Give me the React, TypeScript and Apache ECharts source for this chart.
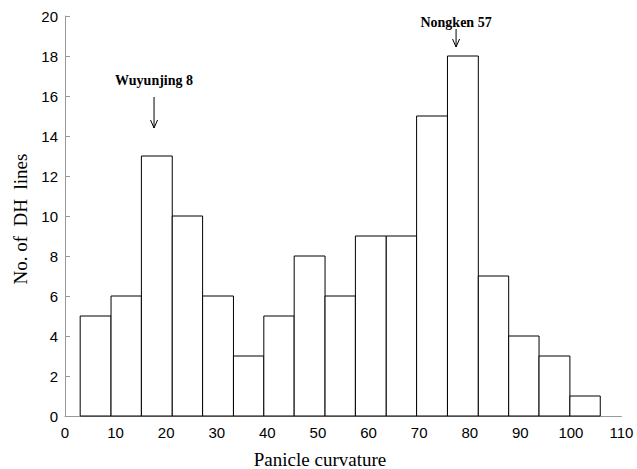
import React, { useEffect, useRef } from "react";
import * as echarts from "echarts";

// Histogram data
const binEdges = [3.0, 9.1, 15.1, 21.2, 27.2, 33.3, 39.3, 45.3, 51.4, 57.4, 63.5, 69.5, 75.6, 81.7, 87.7, 93.7, 99.8, 105.8];
const counts = [5, 6, 13, 10, 6, 3, 5, 8, 6, 9, 9, 15, 18, 7, 4, 3, 1];

// Annotations: label, x position, text y, arrow top y, arrow bottom y (data units)
const annoLabels = ["Wuyunjing 8", "Nongken 57"];
const annoX = [17.6, 77.3];
const annoTextY = [16.8, 19.7];
const annoArrowTop = [15.95, 19.35];
const annoArrowBottom = [14.4, 18.45];

const xTitle = "Panicle curvature";
const yTitle = "No. of  DH  lines";

export default function App() {
  const ref = useRef<HTMLDivElement>(null);

  useEffect(() => {
    if (!ref.current) return;
    const chart = echarts.init(ref.current, null, { renderer: "svg" });
    const sans = '"Liberation Sans", Arial, sans-serif';
    const serif = '"Liberation Serif", "Times New Roman", serif';

    const barData = counts.map((c, i) => [binEdges[i], binEdges[i + 1], c]);
    const annoData = annoLabels.map((_, i) => [annoX[i], annoTextY[i], annoArrowTop[i], annoArrowBottom[i]]);

    chart.setOption({
      animation: false,
      backgroundColor: "#fff",
      grid: { left: 65, right: 15.5, top: 16, bottom: 53 },
      xAxis: {
        type: "value",
        min: 0,
        max: 110,
        interval: 10,
        axisLine: { show: true, lineStyle: { color: "#999", width: 1 } },
        axisTick: { show: false },
        splitLine: { show: false },
        axisLabel: { color: "#000", fontFamily: sans, fontSize: 15, margin: 9, showMinLabel: true, showMaxLabel: true },
      },
      yAxis: {
        type: "value",
        min: 0,
        max: 20,
        interval: 2,
        axisLine: { show: true, lineStyle: { color: "#999", width: 1 } },
        axisTick: { show: true, inside: true, length: 5, lineStyle: { color: "#999" } },
        splitLine: { show: false },
        axisLabel: { color: "#000", fontFamily: sans, fontSize: 15, margin: 7 },
      },
      graphic: [
        {
          type: "text",
          x: 320,
          y: 459,
          style: { text: xTitle, font: `19px ${serif}`, fill: "#000", align: "center", verticalAlign: "middle" },
        },
        {
          type: "text",
          x: 20,
          y: 219,
          rotation: Math.PI / 2,
          style: { text: yTitle, font: `19px ${serif}`, fill: "#000", align: "center", verticalAlign: "middle" },
        },
      ],
      series: [
        {
          type: "custom",
          data: barData,
          encode: { x: [0, 1], y: 2 },
          renderItem: (params: any, api: any) => {
            const p0 = api.coord([api.value(0), api.value(2)]);
            const p1 = api.coord([api.value(1), 0]);
            return {
              type: "rect",
              shape: { x: p0[0], y: p0[1], width: p1[0] - p0[0], height: p1[1] - p0[1] },
              style: { fill: "#fff", stroke: "#000", lineWidth: 1 },
            };
          },
        },
        {
          type: "custom",
          data: annoData,
          encode: { x: 0, y: 1 },
          clip: false,
          renderItem: (params: any, api: any) => {
            const i = params.dataIndex;
            const x = api.value(0);
            const pt = api.coord([x, api.value(1)]);
            const pa = api.coord([x, api.value(2)]);
            const pb = api.coord([x, api.value(3)]);
            return {
              type: "group",
              children: [
                {
                  type: "text",
                  style: {
                    text: annoLabels[i],
                    x: pt[0],
                    y: pt[1],
                    font: `bold 14px ${serif}`,
                    fill: "#000",
                    align: "center",
                    verticalAlign: "middle",
                  },
                },
                {
                  type: "line",
                  shape: { x1: pa[0], y1: pa[1], x2: pb[0], y2: pb[1] },
                  style: { stroke: "#000", lineWidth: 1 },
                },
                {
                  type: "polyline",
                  shape: { points: [[pb[0] - 3.5, pb[1] - 8], [pb[0], pb[1]], [pb[0] + 3.5, pb[1] - 8]] },
                  style: { stroke: "#000", lineWidth: 1, fill: "none" },
                },
              ],
            };
          },
        },
      ],
    });

    return () => chart.dispose();
  }, []);

  return <div ref={ref} style={{ position: "fixed", left: 0, top: 0, width: 637, height: 469 }} />;
}
